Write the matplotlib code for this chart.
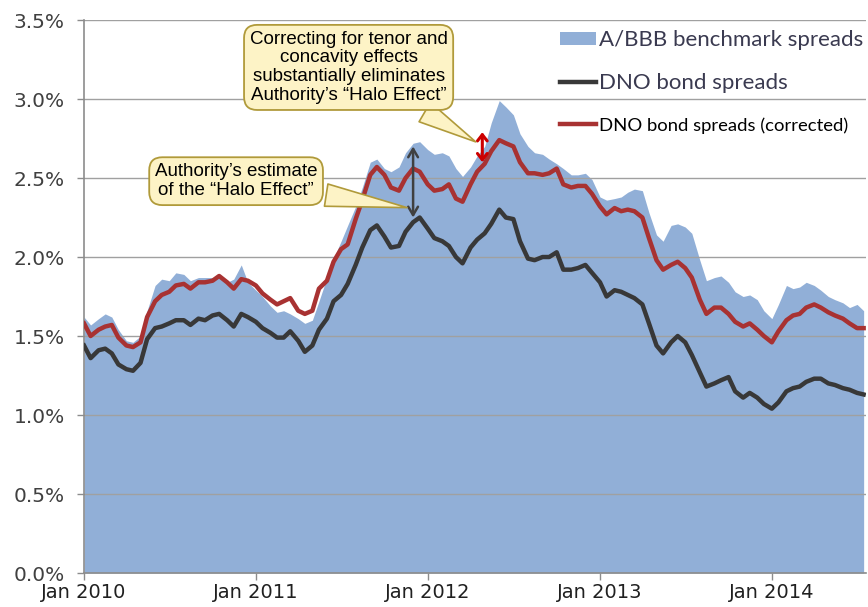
import numpy as np
import pandas as pd
import matplotlib
matplotlib.use("Agg")
import matplotlib.pyplot as plt
import matplotlib.dates as mdates
from matplotlib.ticker import FuncFormatter, MultipleLocator

# semi-monthly readings (1st and 15th), Jan 2010 - mid Jul 2014, in %
dates = pd.date_range("2010-01-01", "2014-07-15", freq="SMS")

benchmark = [
    1.62, 1.57, 1.61, 1.64, 1.62, 1.54, 1.47, 1.46, 1.50, 1.66, 1.82, 1.86,
    1.85, 1.90, 1.89, 1.85, 1.87, 1.87, 1.87, 1.87, 1.84, 1.86, 1.95, 1.84,
    1.79, 1.75, 1.69, 1.65, 1.66, 1.64, 1.61, 1.58, 1.60, 1.72, 1.87, 1.99,
    2.10, 2.20, 2.32, 2.44, 2.60, 2.62, 2.56, 2.54, 2.57, 2.66, 2.72, 2.73,
    2.68, 2.65, 2.66, 2.64, 2.56, 2.51, 2.57, 2.64, 2.70, 2.85, 2.99, 2.95,
    2.90, 2.78, 2.70, 2.66, 2.65, 2.62, 2.59, 2.56, 2.52, 2.52, 2.53, 2.49,
    2.38, 2.36, 2.37, 2.38, 2.41, 2.43, 2.42, 2.28, 2.14, 2.10, 2.20, 2.21,
    2.19, 2.15, 1.98, 1.85, 1.87, 1.88, 1.84, 1.78, 1.75, 1.76, 1.73, 1.66,
    1.61, 1.70, 1.82, 1.80, 1.81, 1.84, 1.82, 1.79, 1.75, 1.73, 1.71, 1.68,
    1.70, 1.66,
]

dno = [
    1.44, 1.36, 1.41, 1.42, 1.39, 1.32, 1.29, 1.28, 1.33, 1.48, 1.55, 1.56,
    1.58, 1.60, 1.60, 1.57, 1.61, 1.60, 1.63, 1.64, 1.60, 1.56, 1.64, 1.62,
    1.59, 1.55, 1.52, 1.49, 1.49, 1.53, 1.47, 1.40, 1.44, 1.54, 1.61, 1.72,
    1.76, 1.83, 1.95, 2.06, 2.17, 2.20, 2.13, 2.06, 2.07, 2.16, 2.22, 2.25,
    2.18, 2.12, 2.10, 2.07, 2.00, 1.96, 2.06, 2.11, 2.15, 2.21, 2.30, 2.25,
    2.24, 2.10, 1.99, 1.98, 2.00, 2.00, 2.03, 1.92, 1.92, 1.93, 1.95, 1.90,
    1.84, 1.75, 1.79, 1.78, 1.76, 1.74, 1.70, 1.58, 1.44, 1.39, 1.46, 1.50,
    1.46, 1.38, 1.27, 1.18, 1.20, 1.22, 1.24, 1.15, 1.11, 1.14, 1.11, 1.07,
    1.04, 1.08, 1.15, 1.17, 1.18, 1.21, 1.23, 1.23, 1.20, 1.19, 1.17, 1.16,
    1.14, 1.13,
]

dno_corrected = [
    1.58, 1.50, 1.54, 1.56, 1.57, 1.49, 1.44, 1.43, 1.46, 1.62, 1.72, 1.76,
    1.78, 1.82, 1.83, 1.80, 1.84, 1.84, 1.85, 1.88, 1.84, 1.80, 1.86, 1.85,
    1.82, 1.77, 1.73, 1.70, 1.72, 1.74, 1.66, 1.64, 1.66, 1.80, 1.85, 1.97,
    2.05, 2.08, 2.24, 2.36, 2.52, 2.57, 2.52, 2.44, 2.42, 2.50, 2.56, 2.54,
    2.46, 2.42, 2.43, 2.46, 2.37, 2.35, 2.46, 2.54, 2.59, 2.67, 2.74, 2.72,
    2.70, 2.60, 2.53, 2.53, 2.52, 2.53, 2.56, 2.46, 2.44, 2.45, 2.45, 2.40,
    2.32, 2.27, 2.31, 2.29, 2.30, 2.29, 2.25, 2.12, 1.98, 1.92, 1.95, 1.97,
    1.93, 1.87, 1.73, 1.64, 1.68, 1.68, 1.64, 1.59, 1.56, 1.58, 1.54, 1.50,
    1.46, 1.53, 1.60, 1.63, 1.64, 1.68, 1.70, 1.68, 1.65, 1.63, 1.61, 1.58,
    1.55, 1.55,
]

labels = ["A/BBB benchmark spreads", "DNO bond spreads", "DNO bond spreads (corrected)"]

blue = "#91AFD7"
dark = "#383838"
red = "#A83232"
box_fc = "#FDF3C6"
box_ec = "#B09A3A"

fig = plt.figure(figsize=(8.68, 6.07), dpi=100)
ax = fig.add_axes([0.0968, 0.056, 0.9009, 0.911])

ax.fill_between(dates, 0, benchmark, color=blue, lw=0, zorder=1, label=labels[0])
ax.plot(dates, dno, color=dark, lw=3.2, zorder=3, label=labels[1])
ax.plot(dates, dno_corrected, color=red, lw=3.2, zorder=3, label=labels[2])

ax.set_ylim(0, 3.5)
ax.set_xlim(pd.Timestamp("2010-01-01"), pd.Timestamp("2014-07-20"))
ax.yaxis.set_major_locator(MultipleLocator(0.5))
ax.yaxis.set_major_formatter(FuncFormatter(lambda v, p: f"{v:.1f}%"))
ax.xaxis.set_major_locator(mdates.YearLocator())
ax.xaxis.set_major_formatter(mdates.DateFormatter("%b %Y"))

ax.grid(axis="y", color="#a0a0a0", lw=1)
for s in ["top", "right"]:
    ax.spines[s].set_visible(False)
for s in ["left", "bottom"]:
    ax.spines[s].set_color("#8c8c8c")
    ax.spines[s].set_linewidth(1.2)
ax.tick_params(axis="both", colors="#8c8c8c", length=5, width=1)
ax.tick_params(axis="y", pad=9)
ax.tick_params(axis="x", pad=2.5)
for t in ax.get_yticklabels():
    t.set_fontsize(14.5)
    t.set_color("#404040")
for t in ax.get_xticklabels():
    t.set_fontsize(14)
    t.set_color("#202020")

leg = ax.legend(loc="upper right", bbox_to_anchor=(1.022, 1.018), frameon=False,
                handlelength=1.6, handleheight=0.5, handletextpad=0.15, labelspacing=1.05,
                prop={"family": "Lato", "size": 16})
txts = leg.get_texts()
txts[0].set_color("#3a3a50")
txts[1].set_color("#3a3a50")
txts[2].set_color("black")
txts[2].set_fontsize(13.3)

box = dict(boxstyle="round,pad=0.3,rounding_size=0.7", fc=box_fc, ec=box_ec, lw=1.3)
tail = dict(arrowstyle="wedge,tail_width=1.2,shrink_factor=0.5", fc=box_fc, ec=box_ec, lw=1.2)

ax.annotate("Authority’s estimate\nof the “Halo Effect”",
            xy=(pd.Timestamp("2011-11-24"), 2.31), xytext=(pd.Timestamp("2010-11-20"), 2.48),
            ha="center", va="center", fontsize=13.5, family="Liberation Sans",
            linespacing=1.2, bbox=box, arrowprops=tail, zorder=6)
ax.annotate("Correcting for tenor and\nconcavity effects\nsubstantially eliminates\nAuthority’s “Halo Effect”",
            xy=(pd.Timestamp("2012-04-17"), 2.72), xytext=(pd.Timestamp("2011-07-17"), 3.20),
            ha="center", va="center", fontsize=13.5, family="Liberation Sans",
            linespacing=1.15, bbox=box, arrowprops=tail, zorder=6)

ax.annotate("", xy=(pd.Timestamp("2011-12-01"), 2.70), xytext=(pd.Timestamp("2011-12-01"), 2.25),
            arrowprops=dict(arrowstyle="<->,head_length=0.6,head_width=0.35", color="#404040",
                            lw=1.8, shrinkA=0, shrinkB=0), zorder=5)
ax.annotate("", xy=(pd.Timestamp("2012-04-26"), 2.79), xytext=(pd.Timestamp("2012-04-26"), 2.60),
            arrowprops=dict(arrowstyle="<->,head_length=0.45,head_width=0.35", color="#CC0000",
                            lw=2.2, shrinkA=0, shrinkB=0), zorder=5)

fig.savefig("out.png", dpi=100)
